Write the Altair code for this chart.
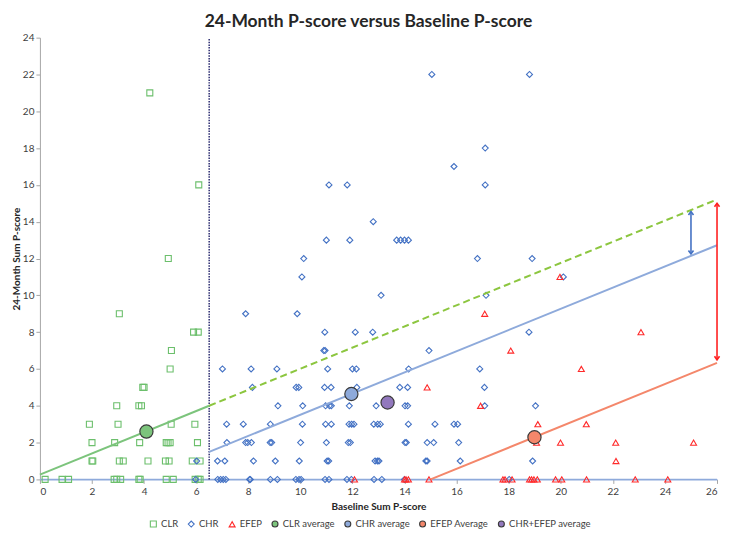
import altair as alt
import pandas as pd

# ---------------- data ----------------
clr_x = [0.2, 0.85, 1.1, 1.9, 2.0, 2.0, 2.03, 2.85, 2.95, 3.1, 2.87, 2.95, 3.0, 3.05, 3.05, 3.2,
         3.8, 3.85, 3.83, 3.8, 3.9, 3.95, 4.0, 4.15, 4.22,
         4.82, 4.96, 4.85, 4.92, 5.0, 4.85, 5.12, 4.93, 5.04, 5.0, 5.05,
         5.9, 6.08, 5.95, 6.05, 5.85, 6.15, 5.96, 6.08, 6.15, 6.1]
clr_y = [0, 0, 0, 3, 2, 1, 1, 0, 0, 0, 2, 4, 3, 9, 1, 1,
         0, 0, 2, 4, 4, 5, 5, 1, 21,
         1, 1, 2, 2, 2, 0, 0, 12, 3, 6, 7,
         8, 8, 3, 2, 1, 1, 0, 0, 0, 16]

chr_x = [15.05, 18.8,
         17.1,
         15.9,
         11.1, 11.8, 17.1,
         12.8,
         11.0, 11.9, 13.7, 13.85, 14.0, 14.15,
         10.13, 16.8, 18.9,
         10.06, 20.1,
         13.1, 17.13,
         7.9, 9.88,
         10.94, 12.11, 12.78, 18.78,
         10.9, 10.95, 14.94,
         7.01, 8.11, 9.1, 11.05, 12.0, 12.15, 14.16, 16.89,
         8.16, 9.84, 9.94, 10.93, 11.18, 12.17, 13.82, 14.12, 17.07,
         9.14, 10.09, 10.97, 11.12, 11.19, 11.88, 12.91, 14.02, 14.12, 17.08, 19.03,
         7.17, 7.81, 8.85, 10.08, 10.97, 11.19, 11.87, 11.97, 12.06, 12.82, 12.97, 13.07, 14.15, 15.17, 15.9, 16.04,
         7.18, 7.9, 7.98, 8.12, 8.84, 8.9, 10.01, 11.0, 11.84, 11.92, 14.02, 14.07, 14.87, 15.12, 16.08,
         6.02, 6.82, 7.1, 8.2, 9.04, 9.96, 11.03, 11.09, 12.87, 12.96, 13.02, 14.82, 14.87, 16.14, 18.92,
         5.98, 6.83, 6.94, 7.04, 7.14, 8.05, 8.08, 8.85, 9.12, 9.83, 9.95, 10.03, 10.95, 11.1, 11.79, 11.96,
         12.83, 13.13, 14.0, 18.02]
chr_y = [22, 22,
         18,
         17,
         16, 16, 16,
         14,
         13, 13, 13, 13, 13, 13,
         12, 12, 12,
         11, 11,
         10, 10,
         9, 9,
         8, 8, 8, 8,
         7, 7, 7,
         6, 6, 6, 6, 6, 6, 6, 6,
         5, 5, 5, 5, 5, 5, 5, 5, 5,
         4, 4, 4, 4, 4, 4, 4, 4, 4, 4, 4,
         3, 3, 3, 3, 3, 3, 3, 3, 3, 3, 3, 3, 3, 3, 3, 3,
         2, 2, 2, 2, 2, 2, 2, 2, 2, 2, 2, 2, 2, 2, 2,
         1, 1, 1, 1, 1, 1, 1, 1, 1, 1, 1, 1, 1, 1, 1,
         0, 0, 0, 0, 0, 0, 0, 0, 0, 0, 0, 0, 0, 0, 0, 0,
         0, 0, 0, 0]

efep_x = [12.08, 14.0, 14.06, 14.15, 14.94, 17.78, 17.86, 18.13, 18.8, 18.88, 18.97, 19.1, 19.8, 20.04,
          20.99, 22.86, 24.11,
          22.12,
          19.07, 19.99, 22.11, 25.1,
          19.12, 20.98,
          16.92,
          14.87,
          20.79,
          18.08,
          23.08,
          17.08,
          19.97]
efep_y = [0, 0, 0, 0, 0, 0, 0, 0, 0, 0, 0, 0, 0, 0,
          0, 0, 0,
          1,
          2, 2, 2, 2,
          3, 3,
          4,
          5,
          6,
          7,
          8,
          9,
          11]

avg_names = ["CLR average", "CHR average", "EFEP Average", "CHR+EFEP average"]
avg_x = [4.09, 11.96, 18.99, 13.35]
avg_y = [2.6, 4.64, 2.29, 4.18]

# fitted lines (end points)
clr_fit_x = [0, 6.5]
clr_fit_y = [0.26, 4.0]
clr_ext_x = [6.5, 26]
clr_ext_y = [4.0, 15.21]
chr_fit_x = [6.5, 26]
chr_fit_y = [1.5, 12.72]
efep_fit_x = [15, 26]
efep_fit_y = [0, 6.33]

cutoff_x = [6.5]

# difference arrows (x, lower end, upper end)
blue_arrow_x = [25]
blue_arrow_lo = [12.25]
blue_arrow_hi = [14.55]
red_arrow_x = [26]
red_arrow_lo = [6.5]
red_arrow_hi = [15.0]

x_ticks = list(range(0, 27, 2))
y_ticks = list(range(0, 25, 2))

series_names = ["CLR", "CHR", "EFEP", "CLR average", "CHR average", "EFEP Average", "CHR+EFEP average"]
stroke_range = ["#6cbf6c", "#4472c4", "#ff2a2a", "#3a3a3a", "#3a3a3a", "#3a3a3a", "#3a3a3a"]
fill_range = ["transparent", "transparent", "transparent", "#7cc47c", "#8eaadb", "#f4876b", "#9278bd"]
shape_range = ["square", "diamond", "triangle-up", "circle", "circle", "circle", "circle"]

FONT = "Lato"

# ---------------- tables ----------------
pts = pd.concat([
    pd.DataFrame({"x": clr_x, "y": clr_y, "series": "CLR"}),
    pd.DataFrame({"x": chr_x, "y": chr_y, "series": "CHR"}),
    pd.DataFrame({"x": efep_x, "y": efep_y, "series": "EFEP"}),
], ignore_index=True)
avgs = pd.DataFrame({"x": avg_x, "y": avg_y, "series": avg_names})

X = alt.X("x:Q", scale=alt.Scale(domain=[0, 26], nice=False, zero=False),
          axis=alt.Axis(values=x_ticks, title="Baseline Sum P-score", grid=False, labelOverlap=False,
                        domainColor="#8eaadb", domainWidth=1.2, tickColor="#a6a6a6", tickSize=4,
                        labelFont=FONT, labelFontSize=10, labelColor="#404040", labelPadding=3,
                        titleFont=FONT, titleFontSize=10, titleFontWeight="bold", titleColor="#262626",
                        titlePadding=5))
Y = alt.Y("y:Q", scale=alt.Scale(domain=[0, 24], nice=False),
          axis=alt.Axis(values=y_ticks, title="24-Month Sum P-score", grid=False, labelOverlap=False,
                        domainColor="#a6a6a6", tickColor="#a6a6a6", tickSize=4,
                        labelFont=FONT, labelFontSize=10, labelColor="#404040", labelPadding=2,
                        titleFont=FONT, titleFontSize=10, titleFontWeight="bold", titleColor="#262626",
                        titlePadding=1))

leg = alt.Legend(title=None, orient="none", legendX=109, legendY=483, direction="horizontal",
                 labelFont=FONT, labelFontSize=9.5, labelColor="#404040", symbolSize=36,
                 symbolStrokeWidth=1.1, columnPadding=7, labelOffset=3)

stroke_enc = alt.Stroke("series:N", scale=alt.Scale(domain=series_names, range=stroke_range), legend=leg)
fill_enc = alt.Fill("series:N", scale=alt.Scale(domain=series_names, range=fill_range), legend=leg)
shape_enc = alt.Shape("series:N", scale=alt.Scale(domain=series_names, range=shape_range), legend=leg)


def seg(xs, ys, color, dash=None, width=2):
    df = pd.DataFrame({"x": xs, "y": ys})
    kw = dict(color=color, strokeWidth=width)
    if dash:
        kw["strokeDash"] = dash
    return alt.Chart(df).mark_line(**kw).encode(x=X, y=Y)


points_layer = alt.Chart(pts).mark_point(filled=True, opacity=1, size=36, strokeWidth=1.1).encode(
    x=X, y=Y, stroke=stroke_enc, fill=fill_enc, shape=shape_enc)

avg_layer = alt.Chart(avgs).mark_point(filled=True, opacity=1, size=175, strokeWidth=1.2).encode(
    x=X, y=Y, stroke=stroke_enc, fill=fill_enc, shape=shape_enc)

cutoff = alt.Chart(pd.DataFrame({"x": cutoff_x, "y": [0], "y2": [24]})).mark_rule(
    color="#2b2b70", strokeWidth=1.5, strokeDash=[1.5, 1.2]).encode(x=X, y=Y, y2="y2:Q")

zero_line = alt.Chart(pd.DataFrame({"x": [0], "x2": [26], "y": [0]})).mark_rule(
    color="#8eaadb", strokeWidth=1.2).encode(x=X, x2="x2:Q", y=Y)


def arrow(xs, lo, hi, color):
    df = pd.DataFrame({"x": xs, "y": lo, "y2": hi})
    shaft = alt.Chart(df).mark_rule(color=color, strokeWidth=1.6).encode(x=X, y=Y, y2="y2:Q")
    top = alt.Chart(pd.DataFrame({"x": xs, "y": hi})).mark_point(
        shape="M-0.8,1.1L0,0L0.8,1.1", filled=False, opacity=1,
        color=color, strokeWidth=1.6, size=40).encode(x=X, y=Y)
    bot = alt.Chart(pd.DataFrame({"x": xs, "y": lo})).mark_point(
        shape="M-0.8,-1.1L0,0L0.8,-1.1", filled=False, opacity=1,
        color=color, strokeWidth=1.6, size=40).encode(x=X, y=Y)
    return shaft + top + bot


chart = alt.layer(
    zero_line,
    cutoff,
    points_layer,
    seg(clr_fit_x, clr_fit_y, "#7cc47c"),
    seg(clr_ext_x, clr_ext_y, "#8cc63f", dash=[7, 4]),
    seg(chr_fit_x, chr_fit_y, "#8eaadb"),
    seg(efep_fit_x, efep_fit_y, "#f4876b"),
    arrow(blue_arrow_x, blue_arrow_lo, blue_arrow_hi, "#4472c4"),
    arrow(red_arrow_x, red_arrow_lo, red_arrow_hi, "#ff2020"),
    avg_layer,
).properties(
    width=679, height=443,
    autosize=alt.AutoSizeParams(type="none"),
    padding={"left": 32, "top": 29, "right": 6, "bottom": 52},
    title=alt.TitleParams("24-Month P-score versus Baseline P-score", font=FONT, fontSize=17.5,
                          fontWeight="bold", color="#262626", anchor="middle", offset=2, dx=-10),
).configure_view(stroke=None)

chart.save("out.html", embed_options={"renderer": "svg", "actions": False})
